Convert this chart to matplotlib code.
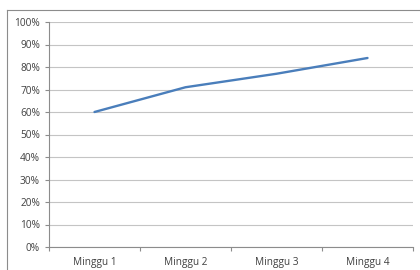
import matplotlib.pyplot as plt
from matplotlib.lines import Line2D
from matplotlib.ticker import FixedLocator

weeks = ['Minggu 1', 'Minggu 2', 'Minggu 3', 'Minggu 4']
values = [60, 71, 77, 84]
y_ticks = list(range(0, 101, 10))

fig = plt.figure(figsize=(4.2, 2.7), dpi=100)
fig.patch.set_facecolor('white')

# garis bingkai chart (kiri dan atas saja yang terlihat)
fig.add_artist(Line2D([7/420, 7/420], [0, 1 - 10/270], color='#8c8c8c', lw=0.8))
fig.add_artist(Line2D([7/420, 1], [1 - 10/270, 1 - 10/270], color='#8c8c8c', lw=0.8))

ax = fig.add_axes([49/420, 23/270, 364/420, 225/270])
x = range(len(weeks))
ax.plot(x, values, color='#4a7ebb', lw=1.7, solid_capstyle='round')

ax.set_xlim(-0.5, len(weeks) - 0.5)
ax.set_ylim(0, 100)
ax.set_yticks(y_ticks)
ax.set_yticklabels([f'{v}%' for v in y_ticks])
ax.set_xticks(list(x))
ax.set_xticklabels(weeks)
ax.xaxis.set_minor_locator(FixedLocator([i - 0.5 for i in range(len(weeks) + 1)]))

ax.grid(axis='y', color='#c4c4c4', lw=0.8)
ax.set_axisbelow(True)
for side in ['top', 'right']:
    ax.spines[side].set_visible(False)
for side in ['left', 'bottom']:
    ax.spines[side].set_color('#8c8c8c')
    ax.spines[side].set_linewidth(0.8)

ax.tick_params(axis='y', length=3, width=0.8, color='#8c8c8c', pad=3.5,
               labelsize=7.3, labelcolor='#404040')
ax.tick_params(axis='x', which='major', length=0, pad=7,
               labelsize=7.3, labelcolor='#404040')
ax.tick_params(axis='x', which='minor', length=3, width=0.8, color='#8c8c8c')
for lbl in ax.get_xticklabels() + ax.get_yticklabels():
    lbl.set_fontfamily('Open Sans')

fig.savefig('out.png', dpi=100)
